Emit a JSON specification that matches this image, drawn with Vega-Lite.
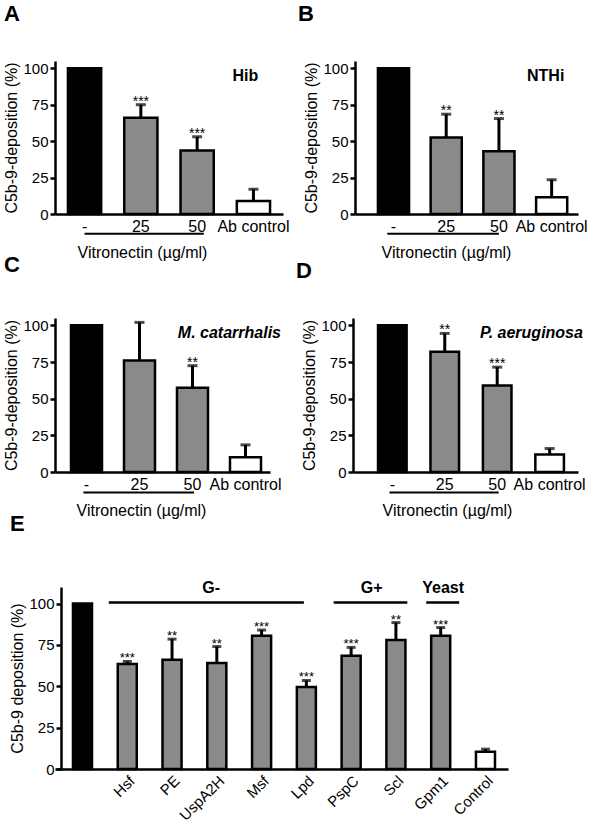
{
  "$schema": "https://vega.github.io/schema/vega-lite/v6.json",
  "padding": {"left": 3, "top": 3, "right": 0, "bottom": 0},
  "background": "white",
  "datasets": {
    "a": [
      {"cat": "-", "value": 100, "upper": null, "sig": "", "kind": "neg"},
      {"cat": "25", "value": 66, "upper": 75, "sig": "***", "kind": "vn"},
      {"cat": "50", "value": 43.5, "upper": 53, "sig": "***", "kind": "vn"},
      {"cat": "Ab control", "value": 9, "upper": 17, "sig": "", "kind": "ab"}
    ],
    "b": [
      {"cat": "-", "value": 100, "upper": null, "sig": "", "kind": "neg"},
      {"cat": "25", "value": 52.5, "upper": 68.5, "sig": "**", "kind": "vn"},
      {"cat": "50", "value": 43, "upper": 65.5, "sig": "**", "kind": "vn"},
      {"cat": "Ab control", "value": 11.5, "upper": 23.5, "sig": "", "kind": "ab"}
    ],
    "c": [
      {"cat": "-", "value": 100, "upper": null, "sig": "", "kind": "neg"},
      {"cat": "25", "value": 76, "upper": 102, "sig": "", "kind": "vn"},
      {"cat": "50", "value": 57.5, "upper": 72.5, "sig": "**", "kind": "vn"},
      {"cat": "Ab control", "value": 10, "upper": 18.5, "sig": "", "kind": "ab"}
    ],
    "d": [
      {"cat": "-", "value": 100, "upper": null, "sig": "", "kind": "neg"},
      {"cat": "25", "value": 82, "upper": 94.5, "sig": "**", "kind": "vn"},
      {"cat": "50", "value": 59, "upper": 71.5, "sig": "***", "kind": "vn"},
      {"cat": "Ab control", "value": 12, "upper": 16, "sig": "", "kind": "ab"}
    ],
    "e": [
      {"cat": " ", "value": 100, "upper": null, "sig": "", "kind": "neg"},
      {"cat": "Hsf", "value": 63.5, "upper": 65, "sig": "***", "kind": "vn"},
      {"cat": "PE", "value": 66, "upper": 78.5, "sig": "**", "kind": "vn"},
      {"cat": "UspA2H", "value": 64, "upper": 74, "sig": "**", "kind": "vn"},
      {"cat": "Msf", "value": 80.5, "upper": 84, "sig": "***", "kind": "vn"},
      {"cat": "Lpd", "value": 49.5, "upper": 53.5, "sig": "***", "kind": "vn"},
      {"cat": "PspC", "value": 68.5, "upper": 73.5, "sig": "***", "kind": "vn"},
      {"cat": "Scl", "value": 78, "upper": 88.5, "sig": "**", "kind": "vn"},
      {"cat": "Gpm1", "value": 80.5, "upper": 85.5, "sig": "***", "kind": "vn"},
      {"cat": "Control", "value": 10.5, "upper": 12, "sig": "", "kind": "ab"}
    ]
  },
  "config": {
    "font": "Liberation Sans",
    "view": {"stroke": null},
    "title": {"anchor": "start", "frame": "bounds", "fontSize": 22, "fontWeight": "bold", "color": "black", "font": "Liberation Sans"},
    "axis": {"domainColor": "black", "domainWidth": 2.5, "tickColor": "black", "tickWidth": 2.5, "labelColor": "black", "titleColor": "black", "labelFontSize": 16, "titleFontSize": 16, "titleFontWeight": "normal", "grid": false, "labelOverlap": false},
    "axisY": {"tickSize": 5, "labelPadding": 2, "titlePadding": 3, "labelFontSize": 15},
    "axisX": {"ticks": false, "labelAngle": 0, "labelPadding": 4},
    "text": {"color": "black"}
  },
  "spacing": -6,
  "vconcat": [
    {
      "spacing": -6,
      "vconcat": [
        {
          "bounds": "flush",
          "spacing": 72,
          "hconcat": [
            {
              "width": 228, "height": 153,
              "title": {"text": "A", "offset": 35},
              "data": {"name": "a"},
              "encoding": {"x": {"field": "cat", "type": "nominal", "sort": null, "scale": {"paddingInner": 0.41, "paddingOuter": 0.23}, "axis": {"title": "Vitronectin (µg/ml)", "titleX": 87, "titlePadding": 10}}},
              "layer": [
                {"mark": {"type": "bar", "stroke": "black", "strokeWidth": 2.5},
                 "encoding": {"y": {"field": "value", "type": "quantitative", "scale": {"domain": [0, 105], "nice": false}, "axis": {"title": "C5b-9-deposition (%)", "values": [0, 25, 50, 75, 100], "tickCount": 10}},
                              "fill": {"field": "kind", "type": "nominal", "scale": {"domain": ["neg", "vn", "ab"], "range": ["black", "#8a8a8a", "white"]}, "legend": null}}},
                {"transform": [{"filter": "datum.upper != null"}], "mark": {"type": "rule", "strokeWidth": 3, "color": "black"}, "encoding": {"y": {"field": "value", "type": "quantitative"}, "y2": {"field": "upper"}}},
                {"transform": [{"filter": "datum.upper != null"}], "mark": {"type": "tick", "thickness": 3, "size": 10, "color": "black"}, "encoding": {"y": {"field": "upper", "type": "quantitative"}}},
                {"transform": [{"filter": "datum.upper != null"}], "mark": {"type": "text", "baseline": "alphabetic", "dy": 1, "fontSize": 14}, "encoding": {"y": {"field": "upper", "type": "quantitative"}, "text": {"field": "sig"}}},
                {"data": {"values": [{}]}, "mark": {"type": "text", "fontSize": 16, "fontWeight": "bold", "dx": -8, "baseline": "middle"}, "encoding": {"x": {"datum": "Ab control"}, "y": {"datum": 95}, "text": {"value": "Hib"}}},
                {"data": {"values": [{}]}, "mark": {"type": "rule", "strokeWidth": 2, "color": "black"}, "encoding": {"x": {"datum": "-", "bandPosition": 0.5}, "x2": {"datum": "50", "bandPosition": 0.7}, "y": {"datum": -13.5}}}
              ]
            },
            {
              "width": 223, "height": 153,
              "title": {"text": "B", "offset": 35, "dx": -6},
              "data": {"name": "b"},
              "encoding": {"x": {"field": "cat", "type": "nominal", "sort": null, "scale": {"paddingInner": 0.41, "paddingOuter": 0.32, "align": 0.68}, "axis": {"title": "Vitronectin (µg/ml)", "titleX": 91, "titlePadding": 10}}},
              "layer": [
                {"mark": {"type": "bar", "stroke": "black", "strokeWidth": 2.5},
                 "encoding": {"y": {"field": "value", "type": "quantitative", "scale": {"domain": [0, 105], "nice": false}, "axis": {"title": "C5b-9-deposition (%)", "values": [0, 25, 50, 75, 100], "tickCount": 10}},
                              "fill": {"field": "kind", "type": "nominal", "scale": {"domain": ["neg", "vn", "ab"], "range": ["black", "#8a8a8a", "white"]}, "legend": null}}},
                {"transform": [{"filter": "datum.upper != null"}], "mark": {"type": "rule", "strokeWidth": 3, "color": "black"}, "encoding": {"y": {"field": "value", "type": "quantitative"}, "y2": {"field": "upper"}}},
                {"transform": [{"filter": "datum.upper != null"}], "mark": {"type": "tick", "thickness": 3, "size": 10, "color": "black"}, "encoding": {"y": {"field": "upper", "type": "quantitative"}}},
                {"transform": [{"filter": "datum.upper != null"}], "mark": {"type": "text", "baseline": "alphabetic", "dy": 1, "fontSize": 14}, "encoding": {"y": {"field": "upper", "type": "quantitative"}, "text": {"field": "sig"}}},
                {"data": {"values": [{}]}, "mark": {"type": "text", "fontSize": 16, "fontWeight": "bold", "dx": -6, "baseline": "middle"}, "encoding": {"x": {"datum": "Ab control"}, "y": {"datum": 95}, "text": {"value": "NTHi"}}},
                {"data": {"values": [{}]}, "mark": {"type": "rule", "strokeWidth": 2, "color": "black"}, "encoding": {"x": {"datum": "-", "bandPosition": 0.3}, "x2": {"datum": "50", "bandPosition": 0.5}, "y": {"datum": -13.5}}}
              ]
            }
          ]
        },
        {
          "bounds": "flush",
          "spacing": 83,
          "hconcat": [
            {
              "width": 215, "height": 154,
              "title": {"text": "C", "offset": 35},
              "data": {"name": "c"},
              "encoding": {"x": {"field": "cat", "type": "nominal", "sort": null, "scale": {"paddingInner": 0.415, "paddingOuter": 0.236, "align": 0.64}, "axis": {"title": "Vitronectin (µg/ml)", "titleX": 86, "titlePadding": 10}}},
              "layer": [
                {"mark": {"type": "bar", "stroke": "black", "strokeWidth": 2.5},
                 "encoding": {"y": {"field": "value", "type": "quantitative", "scale": {"domain": [0, 105], "nice": false}, "axis": {"title": "C5b-9-deposition (%)", "values": [0, 25, 50, 75, 100], "tickCount": 10}},
                              "fill": {"field": "kind", "type": "nominal", "scale": {"domain": ["neg", "vn", "ab"], "range": ["black", "#8a8a8a", "white"]}, "legend": null}}},
                {"transform": [{"filter": "datum.upper != null"}], "mark": {"type": "rule", "strokeWidth": 3, "color": "black"}, "encoding": {"y": {"field": "value", "type": "quantitative"}, "y2": {"field": "upper"}}},
                {"transform": [{"filter": "datum.upper != null"}], "mark": {"type": "tick", "thickness": 3, "size": 10, "color": "black"}, "encoding": {"y": {"field": "upper", "type": "quantitative"}}},
                {"transform": [{"filter": "datum.upper != null"}], "mark": {"type": "text", "baseline": "alphabetic", "dy": 1, "fontSize": 14}, "encoding": {"y": {"field": "upper", "type": "quantitative"}, "text": {"field": "sig"}}},
                {"data": {"values": [{}]}, "mark": {"type": "text", "fontSize": 16, "fontWeight": "bold", "fontStyle": "italic", "align": "right", "dx": 20, "baseline": "middle"}, "encoding": {"x": {"datum": "Ab control", "bandPosition": 1}, "y": {"datum": 95}, "text": {"value": "M. catarrhalis"}}},
                {"data": {"values": [{}]}, "mark": {"type": "rule", "strokeWidth": 2, "color": "black"}, "encoding": {"x": {"datum": "-", "bandPosition": 0.4}, "x2": {"datum": "50", "bandPosition": 0.55}, "y": {"datum": -14}}}
              ]
            },
            {
              "width": 225, "height": 154,
              "title": {"text": "D", "offset": 35, "dx": -6},
              "data": {"name": "d"},
              "encoding": {"x": {"field": "cat", "type": "nominal", "sort": null, "scale": {"paddingInner": 0.455, "paddingOuter": 0.373, "align": 0.64}, "axis": {"title": "Vitronectin (µg/ml)", "titleX": 94, "titlePadding": 10}}},
              "layer": [
                {"mark": {"type": "bar", "stroke": "black", "strokeWidth": 2.5},
                 "encoding": {"y": {"field": "value", "type": "quantitative", "scale": {"domain": [0, 105], "nice": false}, "axis": {"title": "C5b-9-deposition (%)", "values": [0, 25, 50, 75, 100], "tickCount": 10}},
                              "fill": {"field": "kind", "type": "nominal", "scale": {"domain": ["neg", "vn", "ab"], "range": ["black", "#8a8a8a", "white"]}, "legend": null}}},
                {"transform": [{"filter": "datum.upper != null"}], "mark": {"type": "rule", "strokeWidth": 3, "color": "black"}, "encoding": {"y": {"field": "value", "type": "quantitative"}, "y2": {"field": "upper"}}},
                {"transform": [{"filter": "datum.upper != null"}], "mark": {"type": "tick", "thickness": 3, "size": 10, "color": "black"}, "encoding": {"y": {"field": "upper", "type": "quantitative"}}},
                {"transform": [{"filter": "datum.upper != null"}], "mark": {"type": "text", "baseline": "alphabetic", "dy": 1, "fontSize": 14}, "encoding": {"y": {"field": "upper", "type": "quantitative"}, "text": {"field": "sig"}}},
                {"data": {"values": [{}]}, "mark": {"type": "text", "fontSize": 16, "fontWeight": "bold", "fontStyle": "italic", "align": "right", "dx": 19, "baseline": "middle"}, "encoding": {"x": {"datum": "Ab control", "bandPosition": 1}, "y": {"datum": 95}, "text": {"value": "P. aeruginosa"}}},
                {"data": {"values": [{}]}, "mark": {"type": "rule", "strokeWidth": 2, "color": "black"}, "encoding": {"x": {"datum": "-", "bandPosition": 0.4}, "x2": {"datum": "50", "bandPosition": 0.55}, "y": {"datum": -14}}}
              ]
            }
          ]
        }
      ]
    },
    {
      "width": 453, "height": 182,
      "title": {"text": "E", "offset": 44},
      "data": {"name": "e"},
      "encoding": {"x": {"field": "cat", "type": "nominal", "sort": null, "scale": {"paddingInner": 0.575, "paddingOuter": 0.346, "align": 0.58}, "axis": {"title": null, "labelAngle": -45, "labelFontSize": 15}}},
      "layer": [
        {"mark": {"type": "bar", "stroke": "black", "strokeWidth": 2.5},
         "encoding": {"y": {"field": "value", "type": "quantitative", "scale": {"domain": [0, 110], "nice": false}, "axis": {"title": "C5b-9 deposition (%)", "values": [0, 25, 50, 75, 100], "tickCount": 10, "offset": -6}},
                      "fill": {"field": "kind", "type": "nominal", "scale": {"domain": ["neg", "vn", "ab"], "range": ["black", "#8a8a8a", "white"]}, "legend": null}}},
        {"transform": [{"filter": "datum.upper != null"}], "mark": {"type": "rule", "strokeWidth": 3, "color": "black"}, "encoding": {"y": {"field": "value", "type": "quantitative"}, "y2": {"field": "upper"}}},
        {"transform": [{"filter": "datum.upper != null"}], "mark": {"type": "tick", "thickness": 3, "size": 9, "color": "black"}, "encoding": {"y": {"field": "upper", "type": "quantitative"}}},
        {"transform": [{"filter": "datum.upper != null"}], "mark": {"type": "text", "baseline": "alphabetic", "dy": 1, "fontSize": 13}, "encoding": {"y": {"field": "upper", "type": "quantitative"}, "text": {"field": "sig"}}},
        {"data": {"values": [{}]}, "mark": {"type": "rule", "strokeWidth": 2.5, "color": "black"}, "encoding": {"x": {"datum": "Hsf", "bandPosition": -0.47}, "x2": {"datum": "Lpd", "bandPosition": 0.37}, "y": {"datum": 100.6}}},
        {"data": {"values": [{}]}, "mark": {"type": "rule", "strokeWidth": 2.5, "color": "black"}, "encoding": {"x": {"datum": "PspC", "bandPosition": -0.42}, "x2": {"datum": "Scl", "bandPosition": 1.1}, "y": {"datum": 100.6}}},
        {"data": {"values": [{}]}, "mark": {"type": "rule", "strokeWidth": 2.5, "color": "black"}, "encoding": {"x": {"datum": "Gpm1", "bandPosition": -0.26}, "x2": {"datum": "Gpm1", "bandPosition": 1.47}, "y": {"datum": 100.6}}},
        {"data": {"values": [{}]}, "mark": {"type": "text", "fontSize": 16, "fontWeight": "bold", "baseline": "middle"}, "encoding": {"x": {"datum": "UspA2H", "bandPosition": 0.2}, "y": {"datum": 109.5}, "text": {"value": "G-"}}},
        {"data": {"values": [{}]}, "mark": {"type": "text", "fontSize": 16, "fontWeight": "bold", "baseline": "middle"}, "encoding": {"x": {"datum": "PspC", "bandPosition": 1.58}, "y": {"datum": 109.5}, "text": {"value": "G+"}}},
        {"data": {"values": [{}]}, "mark": {"type": "text", "fontSize": 16, "fontWeight": "bold", "baseline": "middle"}, "encoding": {"x": {"datum": "Gpm1", "bandPosition": 0.63}, "y": {"datum": 109.5}, "text": {"value": "Yeast"}}}
      ]
    }
  ]
}
